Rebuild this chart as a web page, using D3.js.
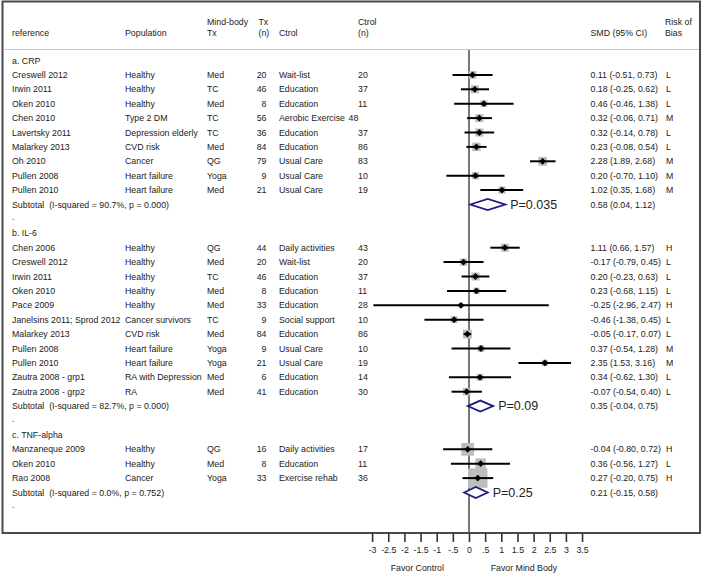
<!DOCTYPE html>
<html><head><meta charset="utf-8">
<script src="https://cdn.jsdelivr.net/npm/d3@7"></script>
<style>
body{margin:0;background:#fff}
svg text{font-family:"Liberation Sans",Arial,Helvetica,sans-serif;fill:#222;white-space:pre}
</style>
</head><body>
<svg id="chart" width="708" height="574"></svg>
<script>
// ---------------- data ----------------
const groupNames = ["a. CRP", "b. IL-6", "c. TNF-alpha"];
const studyGroup = [0,0,0,0,0,0,0,0,0, 1,1,1,1,1,1,1,1,1,1,1, 2,2,2];
const references = ["Creswell 2012","Irwin 2011","Oken 2010","Chen 2010","Lavertsky 2011","Malarkey 2013","Oh 2010","Pullen 2008","Pullen 2010",
  "Chen 2006","Creswell 2012","Irwin 2011","Oken 2010","Pace 2009","Janelsins 2011; Sprod 2012","Malarkey 2013","Pullen 2008","Pullen 2010","Zautra 2008 - grp1","Zautra 2008 - grp2",
  "Manzaneque 2009","Oken 2010","Rao 2008"];
const populations = ["Healthy","Healthy","Healthy","Type 2 DM","Depression elderly","CVD risk","Cancer","Heart failure","Heart failure",
  "Healthy","Healthy","Healthy","Healthy","Healthy","Cancer survivors","CVD risk","Heart failure","Heart failure","RA with Depression","RA",
  "Healthy","Healthy","Cancer"];
const mindBodyTx = ["Med","TC","Med","TC","TC","Med","QG","Yoga","Med",
  "QG","Med","TC","Med","Med","TC","Med","Yoga","Yoga","Med","Med",
  "QG","Med","Yoga"];
const txN = [20,46,8,56,36,84,79,9,21, 44,20,46,8,33,9,84,9,21,6,41, 16,8,33];
const controls = ["Wait-list","Education","Education","Aerobic Exercise","Education","Education","Usual Care","Usual Care","Usual Care",
  "Daily activities","Wait-list","Education","Education","Education","Social support","Education","Usual Care","Usual Care","Education","Education",
  "Daily activities","Education","Exercise rehab"];
const ctrlN = [20,37,11,48,37,86,83,10,19, 43,20,37,11,28,10,86,10,19,14,30, 17,11,36];
const smd   = [0.11,0.18,0.46,0.32,0.32,0.23,2.28,0.20,1.02, 1.11,-0.17,0.20,0.23,-0.25,-0.46,-0.05,0.37,2.35,0.34,-0.07, -0.04,0.36,0.27];
const ciLow = [-0.51,-0.25,-0.46,-0.06,-0.14,-0.08,1.89,-0.70,0.35, 0.66,-0.79,-0.23,-0.68,-2.96,-1.38,-0.17,-0.54,1.53,-0.62,-0.54, -0.80,-0.56,-0.20];
const ciHigh= [0.73,0.62,1.38,0.71,0.78,0.54,2.68,1.10,1.68, 1.57,0.45,0.63,1.15,2.47,0.45,0.07,1.28,3.16,1.30,0.40, 0.72,1.27,0.75];
const riskOfBias = ["L","L","L","M","L","L","M","M","M", "H","L","L","L","H","L","L","M","M","L","L", "H","L","H"];
const weights = [9,10,7,10,10,11,12,8,8, 10,8,10,6,3,7,12,7,6,7,9, 25,17,58];

const subtotalLabels = ["Subtotal  (I-squared = 90.7%, p = 0.000)","Subtotal  (I-squared = 82.7%, p = 0.000)","Subtotal  (I-squared = 0.0%, p = 0.752)"];
const subtotalSMD  = [0.58, 0.35, 0.21];
const subtotalLow  = [0.04, -0.04, -0.15];
const subtotalHigh = [1.12, 0.75, 0.58];
const subtotalP    = ["P=0.035", "P=0.09", "P=0.25"];

const headerLine1 = ["", "", "Mind-body", "Tx", "", "Ctrol", "", "Risk of"];
const headerLine2 = ["reference", "Population", "Tx", "(n)", "Ctrol", "(n)", "SMD (95% CI)", "Bias"];
const tickValues = [-3,-2.5,-2,-1.5,-1,-0.5,0,0.5,1,1.5,2,2.5,3,3.5];
const tickLabels = ["-3","-2.5","-2","-1.5","-1","-.5","0",".5","1","1.5","2","2.5","3","3.5"];
const favorLabels = ["Favor Control", "Favor Mind Body"];

// ---------------- layout ----------------
const fmt = v => v.toFixed(2);
const ciText = (m,l,h) => `${fmt(m)} (${fmt(l)}, ${fmt(h)})`;

const rows = [];
groupNames.forEach((g, gi) => {
  rows.push({type:"group", label:g});
  studyGroup.forEach((sg, i) => { if (sg === gi) rows.push({type:"study", i}); });
  rows.push({type:"subtotal", gi});
  rows.push({type:"dot"});
});

const svg = d3.select("#chart");
const fs = 8.8;
const colX = {ref:12, pop:125, tx:207, txN:266.5, txNHead:258.5, ctrl:279, ctrlN:358, smd:590.5, bias:665};
const frame = {x0:2.5, x1:700, y0:1.5, y1:533};

const x = d3.scaleLinear().domain([0, 3.5]).range([469, 469 + 3.5*32.3]);
const y = d3.scaleLinear().domain([0, rows.length - 1]).range([60.5, 60.5 + (rows.length - 1)*14.4]);
const box = d3.scaleSqrt().domain([0, 100]).range([0, 25.5]);

// frame
svg.append("rect").attr("x", frame.x0).attr("y", frame.y0)
  .attr("width", frame.x1 - frame.x0).attr("height", frame.y1 - frame.y0)
  .attr("fill", "none").attr("stroke", "#4a4a4a").attr("stroke-width", 2);
svg.append("line").attr("x1", frame.x0+1).attr("x2", frame.x1-1).attr("y1", 49.5).attr("y2", 49.5)
  .attr("stroke", "#c8c8c8").attr("stroke-width", 1);

// headers
const headX = [colX.ref, colX.pop, colX.tx, colX.txNHead, colX.ctrl, colX.ctrlN, colX.smd, colX.bias];
headerLine1.forEach((t, k) => { if (t) svg.append("text").attr("x", headX[k]).attr("y", 21.5).attr("dy", "0.35em").attr("font-size", fs).text(t); });
headerLine2.forEach((t, k) => svg.append("text").attr("x", headX[k]).attr("y", 32.5).attr("dy", "0.35em").attr("font-size", fs).text(t));

// zero line
svg.append("line").attr("x1", x(0)).attr("x2", x(0)).attr("y1", 50).attr("y2", frame.y1)
  .attr("stroke", "#555").attr("stroke-width", 1.6);

const addText = (xx, yy, t, anchor, size) => svg.append("text").attr("x", xx).attr("y", yy)
  .attr("dy", "0.35em").attr("font-size", size || fs).attr("text-anchor", anchor || "start").text(t);

rows.forEach((r, ri) => {
  const yy = y(ri);
  if (r.type === "group") addText(colX.ref, yy, r.label);
  else if (r.type === "dot") addText(colX.ref, yy - 2, ".");
  else if (r.type === "study") {
    const i = r.i;
    addText(colX.ref, yy, references[i]);
    addText(colX.pop, yy, populations[i]);
    addText(colX.tx, yy, mindBodyTx[i]);
    addText(colX.txN, yy, String(txN[i]), "end");
    const ct = addText(colX.ctrl, yy, controls[i]);
    const ctEnd = colX.ctrl + ct.node().getComputedTextLength();
    // long control labels push the count right after them, as in the source table
    addText(ctEnd + 16 > colX.ctrlN ? ctEnd + 3.5 : colX.ctrlN, yy, String(ctrlN[i]));
    addText(colX.smd, yy, ciText(smd[i], ciLow[i], ciHigh[i]));
    addText(colX.bias + 1, yy, riskOfBias[i]);
    // weight box
    const s = box(weights[i]);
    svg.append("rect").attr("x", x(smd[i]) - s/2).attr("y", yy - s/2).attr("width", s).attr("height", s)
      .attr("fill", "#bdbdbd");
    // CI line
    svg.append("line").attr("x1", x(ciLow[i])).attr("x2", x(ciHigh[i])).attr("y1", yy).attr("y2", yy)
      .attr("stroke", "#000").attr("stroke-width", 2);
    // point
    const px = x(smd[i]), d = 3.4;
    svg.append("path").attr("d", `M${px},${yy-d}L${px+d},${yy}L${px},${yy+d}L${px-d},${yy}Z`).attr("fill", "#000");
  } else if (r.type === "subtotal") {
    const g = r.gi;
    addText(colX.ref, yy, subtotalLabels[g]);
    addText(colX.smd, yy, ciText(subtotalSMD[g], subtotalLow[g], subtotalHigh[g]));
    const xl = x(subtotalLow[g]), xm = x(subtotalSMD[g]), xh = x(subtotalHigh[g]), h = 5.5;
    svg.append("path").attr("d", `M${xl},${yy}L${xm},${yy-h}L${xh},${yy}L${xm},${yy+h}Z`)
      .attr("fill", "#fff").attr("stroke", "#1c1c80").attr("stroke-width", 1.8);
    addText(xh + 5, yy, subtotalP[g], "start", 12.5);
  }
});

// axis
const axis = d3.axisBottom(x).tickValues(tickValues).tickFormat((d, k) => tickLabels[k]).tickSize(9).tickPadding(5);
const ax = svg.append("g").attr("transform", `translate(0,${frame.y1})`).call(axis);
ax.select(".domain").remove();
ax.selectAll(".tick line").attr("stroke", "#333").attr("stroke-width", 1.6);
ax.selectAll(".tick text").attr("font-size", 8.8).attr("fill", "#222")
  .attr("font-family", '"Liberation Sans",Arial,sans-serif');

svg.append("text").attr("x", x(-1.6)).attr("y", 568).attr("dy", "0.35em").attr("text-anchor", "middle").attr("font-size", 8.8).text(favorLabels[0]);
svg.append("text").attr("x", x(1.7)).attr("y", 568).attr("dy", "0.35em").attr("text-anchor", "middle").attr("font-size", 8.8).text(favorLabels[1]);
</script>
</body></html>
